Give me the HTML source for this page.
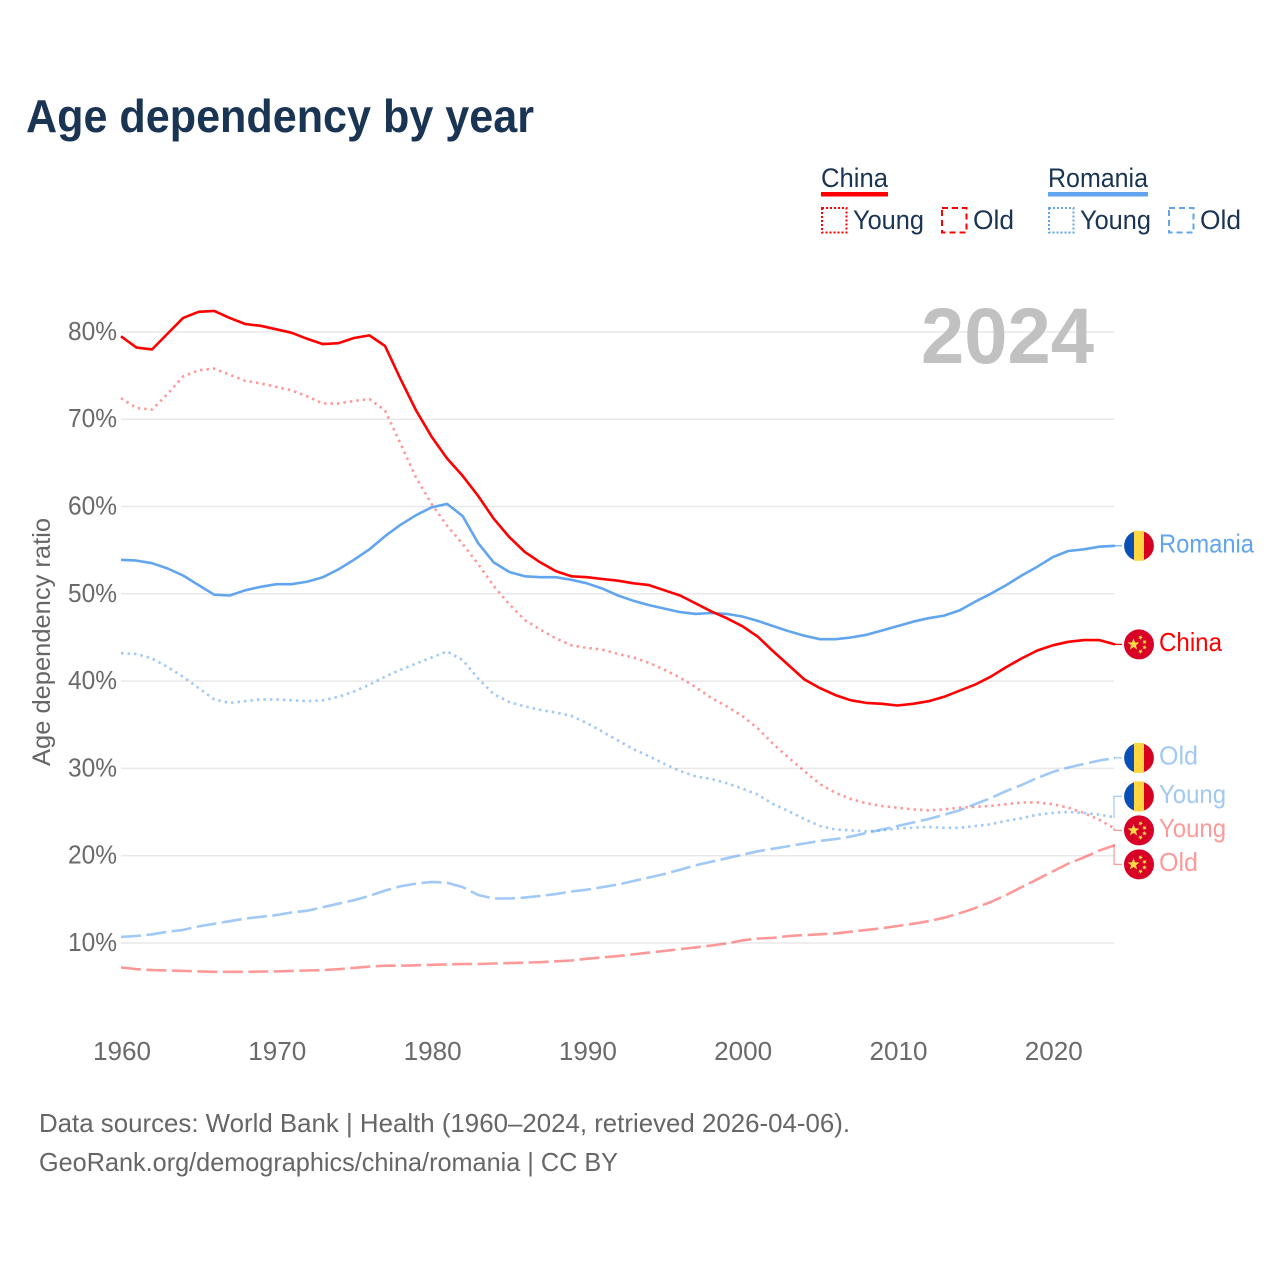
<!DOCTYPE html>
<html lang="en">
<head>
<meta charset="utf-8">
<title>Age dependency by year</title>
<style>
html,body{margin:0;padding:0;background:#fff;}
svg{display:block;}
text{font-family:"Liberation Sans",sans-serif;}
</style>
</head>
<body>
<svg id="chart" width="1280" height="1280" viewBox="0 0 1280 1280" xmlns="http://www.w3.org/2000/svg">
  <rect x="0" y="0" width="1280" height="1280" fill="#ffffff"/>
  <text x="26" y="132" font-size="46" font-weight="700" fill="#1a3454" textLength="508" lengthAdjust="spacingAndGlyphs">Age dependency by year</text>

  <g>
    <text x="821" y="187" font-size="27" fill="#1a3454" textLength="67" lengthAdjust="spacingAndGlyphs">China</text>
    <rect x="821" y="192" width="67" height="4.5" fill="#ff0000"/>
    <rect x="822" y="208" width="24.5" height="24.5" fill="none" stroke="#ff0000" stroke-width="2" stroke-dasharray="2 2"/>
    <text x="853" y="229" font-size="27" fill="#1a3454" textLength="71" lengthAdjust="spacingAndGlyphs">Young</text>
    <rect x="942" y="208" width="24.5" height="24.5" fill="none" stroke="#ff0000" stroke-width="2" stroke-dasharray="6 4"/>
    <text x="973" y="229" font-size="27" fill="#1a3454" textLength="41" lengthAdjust="spacingAndGlyphs">Old</text>

    <text x="1048" y="187" font-size="27" fill="#1a3454" textLength="100" lengthAdjust="spacingAndGlyphs">Romania</text>
    <rect x="1048" y="192" width="100" height="4.5" fill="#62a5ee"/>
    <rect x="1049" y="208" width="24.5" height="24.5" fill="none" stroke="#62a5ee" stroke-width="2" stroke-dasharray="2 2"/>
    <text x="1080" y="229" font-size="27" fill="#1a3454" textLength="71" lengthAdjust="spacingAndGlyphs">Young</text>
    <rect x="1169" y="208" width="24.5" height="24.5" fill="none" stroke="#62a5ee" stroke-width="2" stroke-dasharray="6 4"/>
    <text x="1200" y="229" font-size="27" fill="#1a3454" textLength="41" lengthAdjust="spacingAndGlyphs">Old</text>
  </g>

  <g id="grid"></g>
  <text x="921" y="363" font-size="79" font-weight="700" fill="#c1c1c1" textLength="173" lengthAdjust="spacingAndGlyphs">2024</text>
  <g id="yticks"></g>
  <g id="xticks"></g>
  <text transform="translate(50 642) rotate(-90)" text-anchor="middle" font-size="25" fill="#666666" textLength="248" lengthAdjust="spacingAndGlyphs">Age dependency ratio</text>
  <g id="series"></g>
  <g id="endlabels"></g>

  <text x="39" y="1132" font-size="26" fill="#666666" textLength="811" lengthAdjust="spacingAndGlyphs">Data sources: World Bank | Health (1960–2024, retrieved 2026-04-06).</text>
  <text x="39" y="1171" font-size="26" fill="#666666" textLength="579" lengthAdjust="spacingAndGlyphs">GeoRank.org/demographics/china/romania | CC BY</text>
</svg>
<script>
const startYear = 1960;
const xTickYears = [1960, 1970, 1980, 1990, 2000, 2010, 2020];
const yTickValues = [10, 20, 30, 40, 50, 60, 70, 80];
const chinaTotal = [79.5,78.2,78.0,79.8,81.6,82.3,82.4,81.6,80.9,80.7,80.3,79.9,79.2,78.6,78.7,79.3,79.6,78.4,74.6,71.0,68.0,65.5,63.5,61.2,58.6,56.5,54.8,53.6,52.6,52.0,51.9,51.7,51.5,51.2,51.0,50.4,49.8,48.9,48.0,47.2,46.3,45.1,43.4,41.8,40.2,39.2,38.4,37.8,37.5,37.4,37.2,37.4,37.7,38.2,38.9,39.6,40.5,41.6,42.6,43.5,44.1,44.5,44.7,44.7,44.2];
const chinaYoung = [72.4,71.3,71.1,72.9,74.9,75.6,75.8,75.1,74.4,74.1,73.7,73.3,72.6,71.8,71.8,72.1,72.3,71.0,67.2,63.3,60.3,57.8,55.7,53.4,50.9,48.8,47.0,45.9,44.9,44.1,43.8,43.6,43.1,42.7,42.1,41.3,40.4,39.3,38.1,37.1,36.0,34.6,32.8,31.2,29.7,28.2,27.2,26.5,26.0,25.7,25.5,25.3,25.2,25.3,25.5,25.6,25.7,25.9,26.1,26.1,25.9,25.5,24.9,24.1,23.1];
const chinaOld = [7.2,7.0,6.9,6.85,6.8,6.75,6.7,6.7,6.7,6.72,6.75,6.8,6.85,6.9,7.0,7.15,7.3,7.4,7.4,7.45,7.5,7.55,7.6,7.6,7.65,7.7,7.75,7.8,7.9,8.0,8.2,8.35,8.5,8.7,8.9,9.1,9.3,9.5,9.7,9.95,10.3,10.5,10.6,10.8,10.9,11.0,11.1,11.3,11.5,11.7,11.95,12.2,12.5,12.9,13.4,14.0,14.7,15.5,16.4,17.3,18.2,19.1,19.8,20.6,21.2];
const romaniaTotal = [53.9,53.8,53.5,52.9,52.1,51.0,49.9,49.8,50.4,50.8,51.1,51.1,51.4,51.9,52.8,53.9,55.1,56.6,57.9,59.0,59.9,60.3,58.9,55.8,53.6,52.5,52.0,51.9,51.9,51.6,51.2,50.6,49.8,49.2,48.7,48.3,47.9,47.7,47.8,47.7,47.4,46.9,46.3,45.7,45.2,44.8,44.8,45.0,45.3,45.8,46.3,46.8,47.2,47.5,48.1,49.1,50.0,51.0,52.1,53.1,54.2,54.9,55.1,55.4,55.5];
const romaniaYoung = [43.2,43.1,42.6,41.6,40.5,39.2,37.9,37.5,37.7,37.9,37.9,37.8,37.7,37.8,38.2,38.8,39.6,40.5,41.3,42.0,42.7,43.4,42.4,40.3,38.5,37.6,37.1,36.7,36.4,36.0,35.2,34.2,33.2,32.2,31.4,30.5,29.7,29.1,28.8,28.3,27.7,27.0,25.9,25.1,24.2,23.4,23.0,22.9,22.8,22.9,23.1,23.2,23.3,23.2,23.2,23.4,23.6,24.0,24.3,24.7,24.9,25.0,24.9,24.7,24.4];
const romaniaOld = [10.7,10.8,11.0,11.3,11.5,11.9,12.2,12.5,12.8,13.0,13.2,13.5,13.7,14.1,14.5,14.9,15.4,16.0,16.5,16.8,17.0,16.9,16.4,15.5,15.1,15.1,15.2,15.4,15.6,15.9,16.1,16.4,16.7,17.1,17.5,17.9,18.4,18.9,19.3,19.7,20.1,20.5,20.8,21.1,21.4,21.7,21.9,22.2,22.6,23.0,23.4,23.8,24.2,24.7,25.2,25.9,26.6,27.4,28.1,28.9,29.6,30.1,30.5,30.9,31.2];

const NS = 'http://www.w3.org/2000/svg';
function xScale(year) { return 121 + (year - 1960) * 15.53; }
function yScale(v) { return 943 - (v - 10) * 8.73; }
function make(tag, attrs, parent) {
  const el = document.createElementNS(NS, tag);
  for (const k in attrs) el.setAttribute(k, attrs[k]);
  parent.appendChild(el);
  return el;
}

const grid = document.getElementById('grid');
const yticks = document.getElementById('yticks');
const xticks = document.getElementById('xticks');
const seriesGroup = document.getElementById('series');
const endLabels = document.getElementById('endlabels');

yTickValues.forEach(function (v) {
  const line = make('line', {x1: 121, x2: 1114, y1: yScale(v), y2: yScale(v), stroke: '#e8e8e8', 'stroke-width': 1.5}, grid);
  
  
  const t = make('text', {x: 117, y: yScale(v) + 8, 'text-anchor': 'end', 'font-size': 26, fill: '#6a6a6a', textLength: 49, lengthAdjust: 'spacingAndGlyphs'}, yticks);
  
  
  t.textContent = v + '%';
});

xTickYears.forEach(function (yr) {
  const t = make('text', {x: xScale(yr) + 1, y: 1060, 'text-anchor': 'middle', 'font-size': 26, fill: '#6a6a6a', textLength: 58, lengthAdjust: 'spacingAndGlyphs'}, xticks);
  
  
  t.textContent = yr;
});

function linePath(values) {
  return values.map(function (v, i) {
    return (i ? 'L' : 'M') + xScale(startYear + i).toFixed(1) + ' ' + yScale(v).toFixed(1);
  }).join(' ');
}

const RED = '#ff0000';
const BLUE = '#62a5ee';
const DOT = '2.5 4';
const DASH = '20 5.5';

const seriesList = [
  {name: 'china-old', values: chinaOld, color: RED, opacity: 0.4, dash: DASH, label: 'Old', flag: 'cn', w: 39},
  {name: 'china-young', values: chinaYoung, color: RED, opacity: 0.4, dash: DOT, label: 'Young', flag: 'cn', w: 67},
  {name: 'romania-old', values: romaniaOld, color: BLUE, opacity: 0.6, dash: DASH, label: 'Old', flag: 'ro', w: 39},
  {name: 'romania-young', values: romaniaYoung, color: BLUE, opacity: 0.6, dash: DOT, label: 'Young', flag: 'ro', w: 67},
  {name: 'romania-total', values: romaniaTotal, color: BLUE, opacity: 1, dash: null, label: 'Romania', flag: 'ro', w: 95},
  {name: 'china-total', values: chinaTotal, color: RED, opacity: 1, dash: null, label: 'China', flag: 'cn', w: 63}
];

seriesList.forEach(function (s) {
  const p = make('path', {d: linePath(s.values), fill: 'none', stroke: s.color, 'stroke-opacity': s.opacity, 'stroke-width': 2.6, 'stroke-linejoin': 'round'}, seriesGroup);
  if (s.dash) p.setAttribute('stroke-dasharray', s.dash);
  
  
});

/* de-collide the end labels: merge overlapping labels into evenly spaced clusters */
const MIN_GAP = 34;
const sorted = seriesList.slice().sort(function (a, b) {
  return yScale(a.values[a.values.length - 1]) - yScale(b.values[b.values.length - 1]);
});
let clusters = sorted.map(function (s) {
  return {items: [s], center: yScale(s.values[s.values.length - 1]) };
});
let merged = true;
while (merged) {
  merged = false;
  for (let i = 0; i < clusters.length - 1; i++) {
    const a = clusters[i], b = clusters[i + 1];
    const aBottom = a.center + (a.items.length - 1) * MIN_GAP / 2;
    const bTop = b.center - (b.items.length - 1) * MIN_GAP / 2;
    if (bTop - aBottom < MIN_GAP) {
      const items = a.items.concat(b.items);
      const sum = items.reduce(function (acc, s) { return acc + yScale(s.values[s.values.length - 1]); }, 0);
      clusters.splice(i, 2, {items: items, center: sum / items.length});
      merged = true;
      break;
    }
  }
}
clusters.forEach(function (c) {
  c.items.forEach(function (s, i) {
    s.labelY = c.center + (i - (c.items.length - 1) / 2) * MIN_GAP;
  });
});

function starPoints(cx, cy, r, rot) {
  const pts = [];
  for (let i = 0; i < 10; i++) {
    const rad = i % 2 ? r * 0.42 : r;
    const a = -Math.PI / 2 + rot + i * Math.PI / 5;
    pts.push((cx + rad * Math.cos(a)).toFixed(2) + ',' + (cy + rad * Math.sin(a)).toFixed(2));
  }
  return pts.join(' ');
}

function drawFlag(s, cy) {
  const cx = 1139, r = 15;
  const g = make('g', {}, endLabels);
  
  
  if (s.flag === 'ro') {
    make('path', {d: 'M' + (cx - 5) + ' ' + (cy - 14.1) + ' A15 15 0 0 0 ' + (cx - 5) + ' ' + (cy + 14.1) + ' Z', fill: '#0a4fb4'}, g);
    make('rect', {x: cx - 5, y: cy - 15, width: 10, height: 30, fill: '#ffd540'}, g);
    make('path', {d: 'M' + (cx + 5) + ' ' + (cy - 14.1) + ' A15 15 0 0 1 ' + (cx + 5) + ' ' + (cy + 14.1) + ' Z', fill: '#d6001f'}, g);
  } else {
    make('circle', {cx: cx, cy: cy, r: r, fill: '#d80027'}, g);
    make('polygon', {points: starPoints(cx - 5.5, cy, 6.2, 0), fill: '#ffda44'}, g);
    make('polygon', {points: starPoints(cx + 1.5, cy - 7, 2.6, 0.4), fill: '#ffda44'}, g);
    make('polygon', {points: starPoints(cx + 5.5, cy - 2.5, 2.6, 0.9), fill: '#ffda44'}, g);
    make('polygon', {points: starPoints(cx + 5.5, cy + 3, 2.6, 0.2), fill: '#ffda44'}, g);
    make('polygon', {points: starPoints(cx + 1.5, cy + 7, 2.6, 0.6), fill: '#ffda44'}, g);
  }
}

seriesList.forEach(function (s) {
  const endY = yScale(s.values[s.values.length - 1]);
  const endX = xScale(startYear + s.values.length - 1);
  const c = make('path', {d: 'M' + endX.toFixed(1) + ' ' + endY.toFixed(1) + ' L1114 ' + endY.toFixed(1) + ' L1114 ' + s.labelY.toFixed(1) + ' L1122 ' + s.labelY.toFixed(1), fill: 'none', stroke: s.color, 'stroke-opacity': s.opacity, 'stroke-width': 1.2}, endLabels);
  
  
  drawFlag(s, s.labelY);
  const t = make('text', {x: 1159, y: s.labelY + 6.5, 'font-size': 26, fill: s.color, 'fill-opacity': s.opacity, textLength: s.w, lengthAdjust: 'spacingAndGlyphs'}, endLabels);
  
  
  t.textContent = s.label;
});
</script>
</body>
</html>
